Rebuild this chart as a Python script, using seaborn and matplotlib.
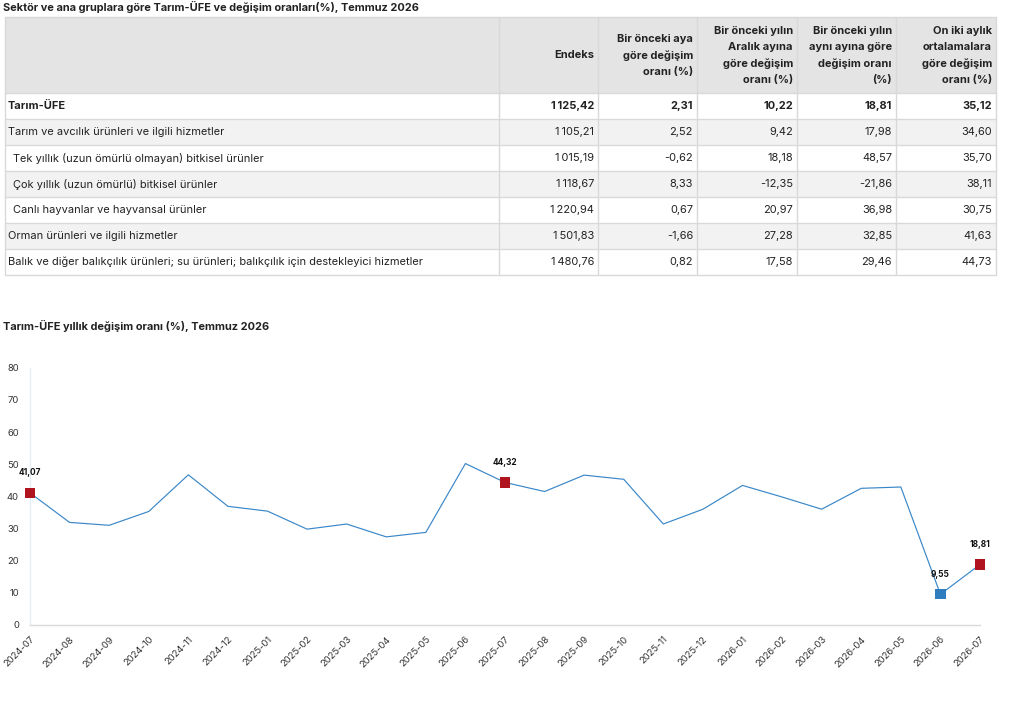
import numpy as np
import pandas as pd
import matplotlib
matplotlib.use("Agg")
import matplotlib.pyplot as plt
import seaborn as sns
from matplotlib.patches import Rectangle

# ---------------- data ----------------
table_title = "Sektör ve ana gruplara göre Tarım-ÜFE ve değişim oranları(%), Temmuz 2026"
chart_title = "Tarım-ÜFE yıllık değişim oranı (%), Temmuz 2026"

col_headers = [
    "",
    "Endeks",
    "Bir önceki aya\ngöre değişim\noranı (%)",
    "Bir önceki yılın\nAralık ayına\ngöre değişim\noranı (%)",
    "Bir önceki yılın\naynı ayına göre\ndeğişim oranı\n(%)",
    "On iki aylık\nortalamalara\ngöre değişim\noranı (%)",
]
row_labels = [
    "Tarım-ÜFE",
    "Tarım ve avcılık ürünleri ve ilgili hizmetler",
    "Tek yıllık (uzun ömürlü olmayan) bitkisel ürünler",
    "Çok yıllık (uzun ömürlü) bitkisel ürünler",
    "Canlı hayvanlar ve hayvansal ürünler",
    "Orman ürünleri ve ilgili hizmetler",
    "Balık ve diğer balıkçılık ürünleri; su ürünleri; balıkçılık için destekleyici hizmetler",
]
row_indent = [0, 0, 1, 1, 1, 0, 0]
endeks = [1125.42, 1105.21, 1015.19, 1118.67, 1220.94, 1501.83, 1480.76]
monthly_change = [2.31, 2.52, -0.62, 8.33, 0.67, -1.66, 0.82]
december_change = [10.22, 9.42, 18.18, -12.35, 20.97, 27.28, 17.58]
annual_change_tbl = [18.81, 17.98, 48.57, -21.86, 36.98, 32.85, 29.46]
twelve_month_avg = [35.12, 34.60, 35.70, 38.11, 30.75, 41.63, 44.73]

months = [
    "2024-07", "2024-08", "2024-09", "2024-10", "2024-11", "2024-12",
    "2025-01", "2025-02", "2025-03", "2025-04", "2025-05", "2025-06",
    "2025-07", "2025-08", "2025-09", "2025-10", "2025-11", "2025-12",
    "2026-01", "2026-02", "2026-03", "2026-04", "2026-05", "2026-06",
    "2026-07",
]
annual_rate = [
    41.07, 31.9, 31.0, 35.3, 46.7, 36.9,
    35.4, 29.8, 31.4, 27.4, 28.8, 50.2,
    44.32, 41.5, 46.6, 45.3, 31.4, 36.0,
    43.4, 39.8, 36.0, 42.5, 42.9, 9.55,
    18.81,
]

# ---------------- style ----------------
sns.set_theme(style="white")
plt.rcParams["font.family"] = ["Inter", "DejaVu Sans"]
TXT = "#222222"
FS = 7.95

W, H = 1009, 702
fig = plt.figure(figsize=(W / 100, H / 100), dpi=100)

# overlay axes in pixel coordinates for the table
tab = fig.add_axes([0, 0, 1, 1])
tab.set_xlim(0, W)
tab.set_ylim(H, 0)
tab.axis("off")


def fmt(v):
    s = f"{v:,.2f}"
    return s.replace(",", "\u2009").replace(".", ",")


tab.text(3, 7, table_title, fontsize=7.9, fontweight="bold", color=TXT,
         ha="left", va="center")

col_edges = [5, 499, 598, 697, 797, 896, 996]
top = 17
head_h = 76
row_h = 26
border = "#d9d9d9"

# header
tab.add_patch(Rectangle((col_edges[0], top), col_edges[-1] - col_edges[0], head_h,
                        facecolor="#e4e4e4", edgecolor="none"))
for j in range(1, 6):
    tab.text(col_edges[j + 1] - 4, top + head_h / 2 + 0.5, col_headers[j], fontsize=FS,
             fontweight="bold", color=TXT, ha="right", va="center",
             multialignment="right", linespacing=1.75)

columns = [endeks, monthly_change, december_change, annual_change_tbl, twelve_month_avg]
for i, lab in enumerate(row_labels):
    y0 = top + head_h + i * row_h
    fc = "#ffffff" if i % 2 == 0 else "#f2f2f2"
    tab.add_patch(Rectangle((col_edges[0], y0), col_edges[-1] - col_edges[0], row_h,
                            facecolor=fc, edgecolor="none"))
    bold = "bold" if i == 0 else "normal"
    tab.text(col_edges[0] + 3 + 5 * row_indent[i], y0 + row_h / 2, lab, fontsize=FS,
             fontweight=bold, color=TXT, ha="left", va="center")
    for j, col in enumerate(columns):
        tab.text(col_edges[j + 2] - 4, y0 + row_h / 2, fmt(col[i]), fontsize=FS,
                 fontweight=bold, color=TXT, ha="right", va="center")

bottom = top + head_h + len(row_labels) * row_h
# grid lines
for x in col_edges:
    tab.plot([x, x], [top, bottom], color=border, lw=1)
tab.plot([col_edges[0], col_edges[-1]], [top, top], color=border, lw=1)
for i in range(len(row_labels) + 1):
    y = top + head_h + i * row_h
    tab.plot([col_edges[0], col_edges[-1]], [y, y], color=border, lw=1)

# chart title
tab.text(3, 326, chart_title, fontsize=7.9, fontweight="bold", color=TXT,
         ha="left", va="center")

# ---------------- line chart ----------------
ax_left, ax_right, ax_top, ax_bottom = 30, 980, 367.7, 625
ax = fig.add_axes([ax_left / W, 1 - ax_bottom / H, (ax_right - ax_left) / W,
                   (ax_bottom - ax_top) / H])
ax.set_facecolor("none")

df = pd.DataFrame({"month": months, "rate": annual_rate})
df["pos"] = np.arange(len(df))
sns.lineplot(data=df, x="pos", y="rate", ax=ax, color="#3a87c8", lw=0.85)

red_idx = [i for i, m in enumerate(months) if m.endswith("-07")]
min_idx = int(np.argmin(annual_rate))
hl = df.loc[red_idx]
sns.scatterplot(data=hl, x="pos", y="rate", ax=ax, marker="s", s=54,
                color="#b0151f", edgecolor="none", zorder=5, clip_on=False)
sns.scatterplot(data=df.loc[[min_idx]], x="pos", y="rate", ax=ax, marker="s", s=54,
                color="#2e7ebf", edgecolor="none", zorder=5, clip_on=False)
for i in red_idx + [min_idx]:
    ax.annotate(fmt(annual_rate[i]), (i, annual_rate[i]), xytext=(0, 14.4),
                textcoords="offset points", ha="center", va="center",
                fontsize=6.0, fontweight="bold", color="#111111")

ax.set_xlim(0, len(months) - 1)
ax.set_ylim(0, 80)
ax.set_yticks(np.arange(0, 81, 10))
ax.set_xticks(df["pos"])
ax.set_xticklabels(months, rotation=45, ha="right", va="top", rotation_mode="anchor")
ax.tick_params(axis="both", length=0, labelsize=6.8, colors="#333333")
ax.tick_params(axis="y", pad=8)
ax.tick_params(axis="x", pad=7)
ax.set_xlabel("")
ax.set_ylabel("")
for s in ["top", "right"]:
    ax.spines[s].set_visible(False)
ax.spines["left"].set_color("#e6edf6")
ax.spines["left"].set_linewidth(1)
ax.spines["bottom"].set_color("#d9d9d9")
ax.spines["bottom"].set_linewidth(1)
ax.grid(False)

fig.savefig("out.png", dpi=100)
